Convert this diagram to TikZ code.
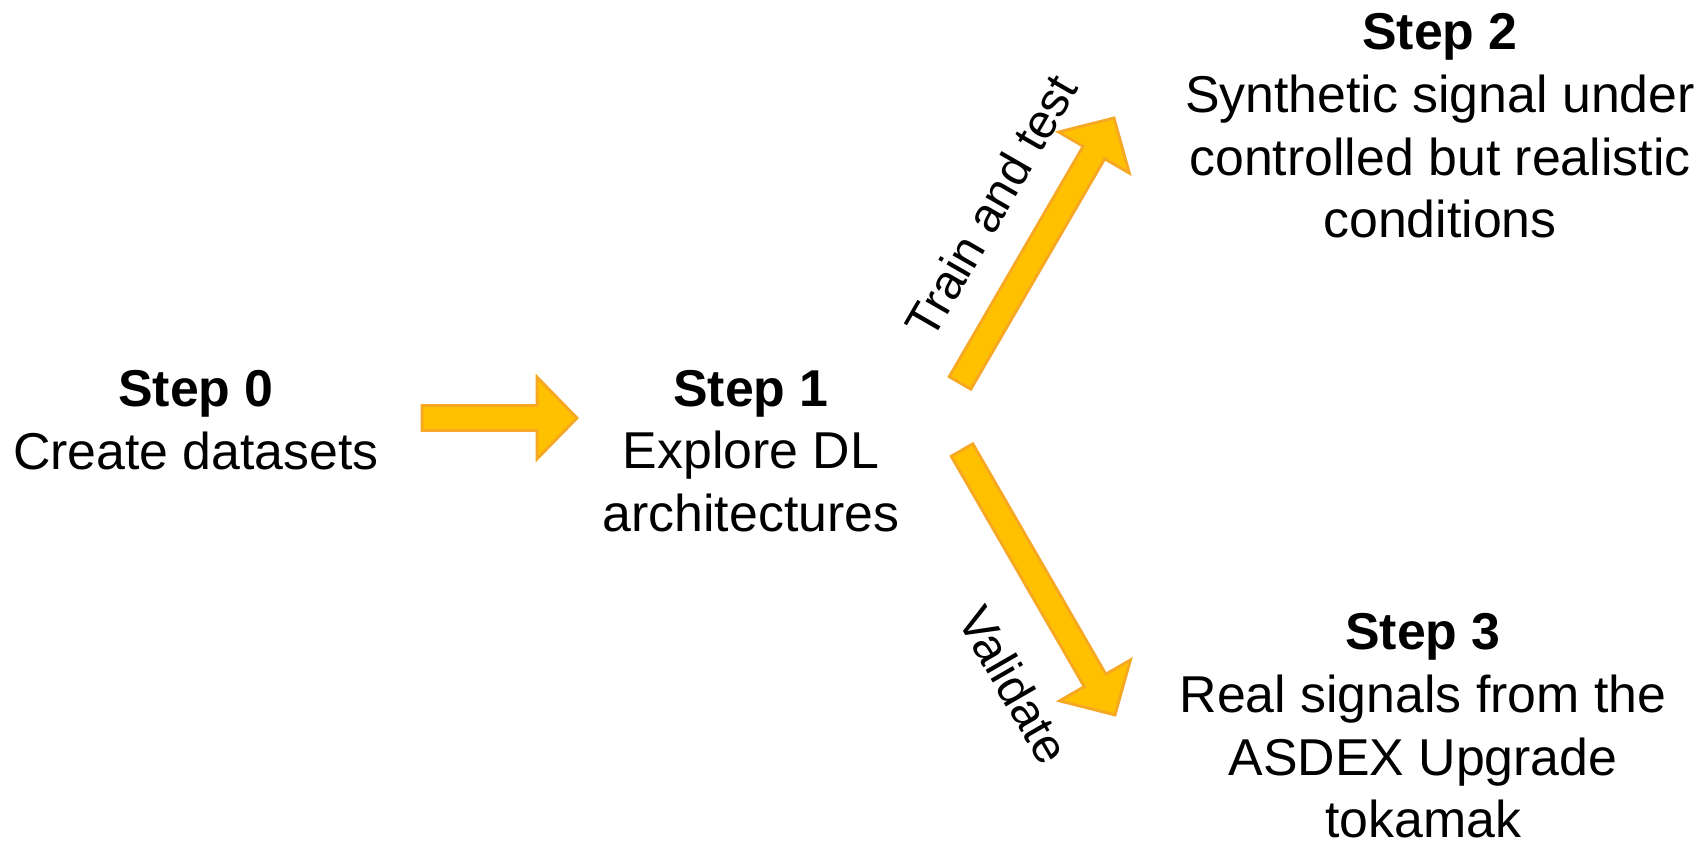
\documentclass[tikz,border=0pt]{standalone}
\usepackage{fontspec}
\setmainfont{Liberation Sans}
\usetikzlibrary{calc}

\definecolor{arrowfill}{RGB}{255,192,0}
\definecolor{arrowline}{RGB}{246,168,36}

\newcommand{\shafthw}{0.25cm}
\newcommand{\headhw}{0.82cm}
\newcommand{\headlen}{0.8cm}

\tikzset{
	stepnode/.style={align=center, inner sep=0pt, font=\fontsize{29.5}{35.7}\selectfont},
	steplabel/.style={inner sep=0pt, font=\fontsize{27.5}{32}\selectfont},
	blockarrow/.style={draw=arrowline, fill=arrowfill, line width=1.6pt, line join=miter,
		to path={
			($(\tikztotarget)!\headlen!(\tikztostart)$) coordinate (hb)
			($(\tikztostart)!\shafthw!90:(\tikztotarget)$)
			-- ($(hb)!\shafthw!90:(\tikztotarget)$)
			-- ($(hb)!\headhw!90:(\tikztotarget)$)
			-- (\tikztotarget)
			-- ($(hb)!\headhw!-90:(\tikztotarget)$)
			-- ($(hb)!\shafthw!-90:(\tikztotarget)$)
			-- ($(\tikztostart)!\shafthw!-90:(\tikztotarget)$) -- cycle}}
}

\begin{document}
\begin{tikzpicture}[x=0.02cm, y=-0.02cm]
	\useasboundingbox (0,0) rectangle (1706,844);

	% Steps
	\node[stepnode] (step0) at (196,420) {\textbf{Step 0}\\Create datasets};
	\node[stepnode] (step1) at (751,451) {\textbf{Step 1}\\Explore DL\\architectures};
	\node[stepnode] (step2) at (1440,126) {\textbf{Step 2}\\Synthetic signal under\\controlled but realistic\\conditions};
	\node[stepnode] (step3) at (1423,726) {\textbf{Step 3}\\Real signals from the\\ASDEX Upgrade\\tokamak};

	% Arrow ends
	\coordinate (a0s) at (422,418);
	\coordinate (a0e) at (577,418);
	\coordinate (a1s) at (960,383);
	\coordinate (a1e) at (1114,118);
	\coordinate (a2s) at (962,450);
	\coordinate (a2e) at (1115,715);

	% Arrows
	\draw[blockarrow] (a0s) to (a0e);
	\draw[blockarrow] (a1s) to (a1e);
	\draw[blockarrow] (a2s) to (a2e);

	% Arrow labels
	\node[steplabel, rotate=60] (train) at (991,206) {Train and test};
	\node[steplabel, rotate=-60] (valid) at (1014,685) {Validate};
\end{tikzpicture}
\end{document}
